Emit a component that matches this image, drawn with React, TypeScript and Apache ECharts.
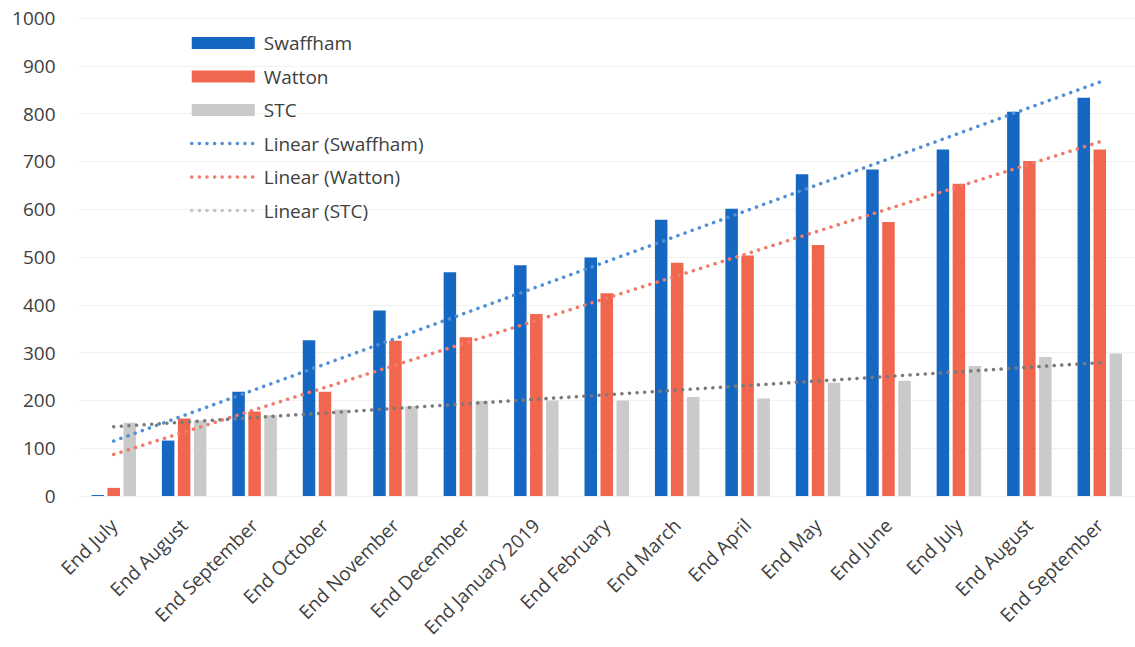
import React, { useEffect, useRef } from "react";
import * as echarts from "echarts";

const categories = [
  "End July", "End August", "End September", "End October", "End November",
  "End December", "End January 2019", "End February", "End March", "End April",
  "End May", "End June", "End July", "End August", "End September",
];
const swaffham = [2, 116, 218, 326, 388, 468, 483, 499, 578, 601, 673, 683, 725, 804, 833];
const watton = [17, 162, 177, 218, 325, 332, 381, 424, 488, 503, 525, 573, 653, 701, 725];
const stc = [153, 158, 169, 181, 188, 199, 200, 200, 207, 204, 237, 241, 272, 291, 298];
// trend line end points (first and last category)
const swaffhamTrend = [115, 866];
const wattonTrend = [87, 741];
const stcTrend = [145, 279];

const FONT = "Open Sans";

function endpoints(pair: number[]) {
  return categories.map((_, i) => (i === 0 ? pair[0] : i === categories.length - 1 ? pair[1] : null));
}

export default function App() {
  const ref = useRef<HTMLDivElement>(null);
  useEffect(() => {
    if (!ref.current) return;
    const chart = echarts.init(ref.current, null, { renderer: "svg" });
    const dotted = (color: string) => ({
      color,
      width: 3.5,
      type: [0.1, 7.5],
      cap: "round",
    });
    const legendDots = { width: 3.5, type: [0.1, 7.5], cap: "round" };
    chart.setOption({
      animation: false,
      backgroundColor: "#ffffff",
      textStyle: { fontFamily: FONT },
      grid: { left: 78.5, right: -11, top: 18, bottom: 151, containLabel: false },
      legend: {
        orient: "vertical",
        left: 190,
        top: 33,
        padding: 0,
        itemWidth: 63,
        itemHeight: 12,
        itemGap: 13.5,
        textStyle: { fontFamily: FONT, fontSize: 19, color: "#404040", lineHeight: 20, padding: [0, 0, 0, 4] },
        data: [
          { name: "Swaffham", icon: "rect" },
          { name: "Watton", icon: "rect" },
          { name: "STC", icon: "rect" },
          { name: "Linear (Swaffham)", itemStyle: { opacity: 0 }, lineStyle: legendDots },
          { name: "Linear (Watton)", itemStyle: { opacity: 0 }, lineStyle: legendDots },
          { name: "Linear (STC)", itemStyle: { opacity: 0 }, lineStyle: { ...legendDots, color: "#c4c4c4" } },
        ],
      },
      xAxis: {
        type: "category",
        data: categories,
        axisLine: { show: false },
        axisTick: { show: false },
        axisLabel: {
          rotate: 45,
          interval: 0,
          margin: 26,
          fontFamily: FONT,
          fontSize: 19,
          color: "#404040",
        },
      },
      yAxis: {
        type: "value",
        min: 0,
        max: 1000,
        interval: 100,
        axisLine: { show: false },
        axisTick: { show: false },
        splitLine: { lineStyle: { color: "#f1f1f1", width: 1 } },
        axisLabel: {
          margin: 23,
          fontFamily: FONT,
          fontSize: 19,
          color: "#404040",
          formatter: (v: number) => String(v),
        },
      },
      series: [
        {
          name: "Swaffham",
          type: "bar",
          data: swaffham,
          barWidth: 12.5,
          barGap: "28%",
          itemStyle: { color: "#1667c2" },
        },
        {
          name: "Watton",
          type: "bar",
          data: watton,
          barWidth: 12.5,
          barGap: "28%",
          itemStyle: { color: "#f0664e" },
        },
        {
          name: "STC",
          type: "bar",
          data: stc,
          barWidth: 12.5,
          barGap: "28%",
          itemStyle: { color: "#cacaca" },
        },
        {
          name: "Linear (Swaffham)",
          type: "line",
          data: endpoints(swaffhamTrend),
          connectNulls: true,
          symbol: "none",
          z: 5,
          itemStyle: { color: "#4f8fd6" },
          lineStyle: dotted("#4f8fd6"),
        },
        {
          name: "Linear (Watton)",
          type: "line",
          data: endpoints(wattonTrend),
          connectNulls: true,
          symbol: "none",
          z: 5,
          itemStyle: { color: "#f27a68" },
          lineStyle: dotted("#f27a68"),
        },
        {
          name: "Linear (STC)",
          type: "line",
          data: endpoints(stcTrend),
          connectNulls: true,
          symbol: "none",
          z: 5,
          itemStyle: { color: "#7a7a7a" },
          lineStyle: dotted("#7a7a7a"),
        },
      ],
    });
    return () => chart.dispose();
  }, []);
  return (
    <div
      ref={ref}
      style={{ position: "fixed", left: 0, top: 0, width: 1135, height: 647, background: "#fff" }}
    />
  );
}
